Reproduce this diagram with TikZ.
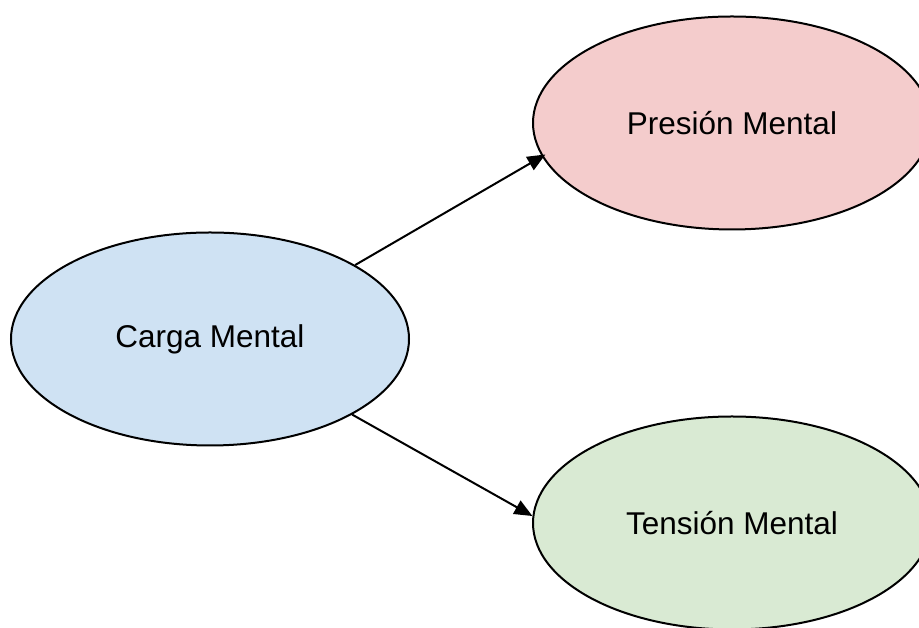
\documentclass[tikz,border=0pt]{standalone}
\usepackage{fontspec}
\setmainfont{Liberation Sans}
\usetikzlibrary{arrows.meta, positioning, shapes.geometric}

\definecolor{cargafill}{HTML}{CFE2F3}
\definecolor{presionfill}{HTML}{F4CCCC}
\definecolor{tensionfill}{HTML}{D9EAD3}

\begin{document}
\begin{tikzpicture}[x=1pt, y=1pt,
      mind/.style={draw, ellipse, line width=2pt, inner sep=0pt,
                   minimum width=398pt, minimum height=213pt,
                   font=\fontsize{31.5}{36}\selectfont},
      arrow/.style={-{Triangle[length=18pt,width=15pt]}, line width=2pt}]

    \clip (0,0) rectangle (919,628);
    \useasboundingbox (0,0) rectangle (919,628);

    \node[mind, fill=cargafill] (carga) at (210,289) {Carga Mental};
    \node[mind, fill=presionfill, right=122pt of carga, yshift=216pt]
          (presion) {Presión Mental};
    \node[mind, fill=tensionfill, right=122pt of carga, yshift=-184pt]
          (tension) {Tensión Mental};

    \draw[arrow, shorten >=-4pt] (carga.27) -- (presion.190);
    \draw[arrow] (carga.-28) -- (tension.178);
  \end{tikzpicture}
\end{document}
